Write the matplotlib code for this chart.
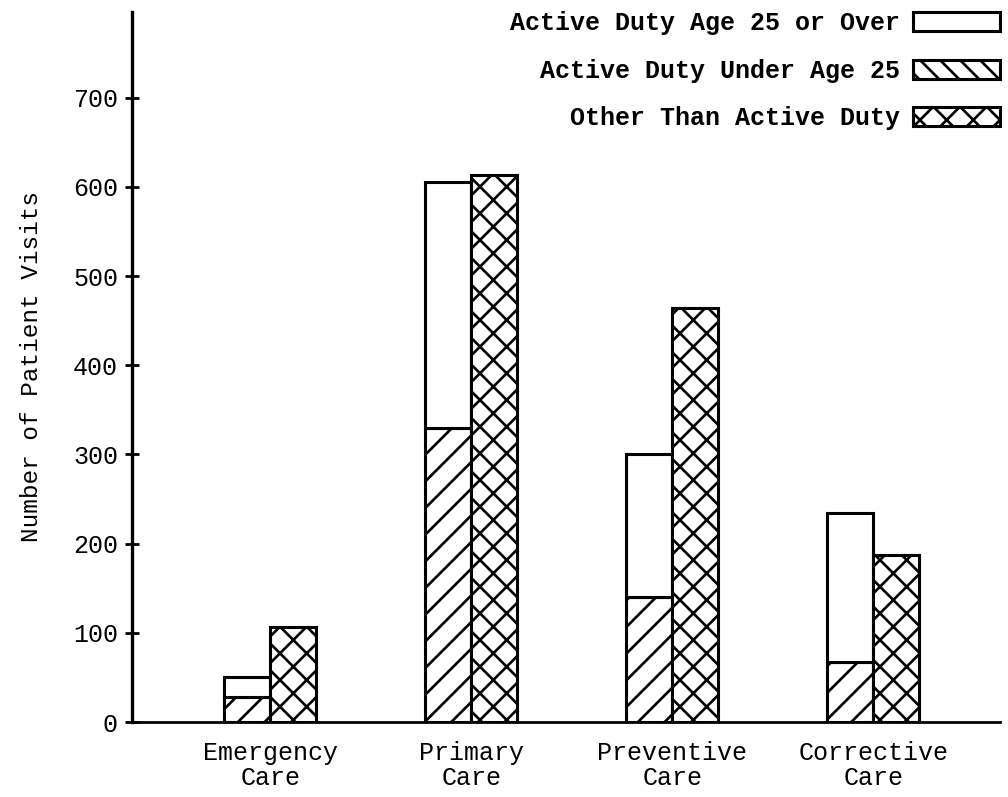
import numpy as np
import matplotlib
matplotlib.use('Agg')
import matplotlib.pyplot as plt
from matplotlib.patches import Patch

plt.rcParams['font.family'] = ['Liberation Mono', 'DejaVu Sans Mono']
plt.rcParams['hatch.linewidth'] = 0.8

categories = ['Emergency\nCare', 'Primary\nCare', 'Preventive\nCare', 'Corrective\nCare']
active_total = [50, 605, 300, 234]
active_under25 = [28, 330, 140, 67]
other = [106, 613, 464, 187]
yticks = [0, 100, 200, 300, 400, 500, 600, 700]

active_over25 = [t - u for t, u in zip(active_total, active_under25)]
x = np.arange(len(categories))
w = 0.229

# dpi 240 so the hatch spacing comes out like the hand drawn one
fig = plt.figure(figsize=(1008 / 240, 797 / 240), dpi=240)
ax = fig.add_axes([132 / 1008, 1 - 722 / 797, (1000 - 132) / 1008, 710 / 797])

ax.bar(x - w / 2, active_under25, w, color='white', edgecolor='black', hatch='///', linewidth=0.92)
ax.bar(x - w / 2, active_over25, w, bottom=active_under25, color='white', edgecolor='black', linewidth=0.92)
ax.bar(x + w / 2, other, w, color='white', edgecolor='black', hatch='xxx', linewidth=0.92)

ax.set_xlim(-0.687, 3.63)
ax.set_ylim(0, 796)
ax.set_yticks(yticks)
ax.set_xticks(x)
ax.set_xticklabels(categories, fontsize=7.5, linespacing=1.05)
ax.tick_params(axis='x', length=0, pad=5.8)
ax.tick_params(axis='y', direction='inout', length=4.2, width=0.83, labelsize=7.5, pad=2.1)
ax.spines['top'].set_visible(False)
ax.spines['right'].set_visible(False)
ax.spines['left'].set_linewidth(1.0)
ax.spines['bottom'].set_linewidth(0.83)
ax.set_ylabel('Number of Patient Visits', fontsize=7.3, labelpad=9)

handles = [
    Patch(facecolor='white', edgecolor='black', linewidth=0.92),
    Patch(facecolor='white', edgecolor='black', hatch='\\\\\\\\', linewidth=0.92),
    Patch(facecolor='white', edgecolor='black', hatch='xxx', linewidth=0.92),
]
labels = ['Active Duty Age 25 or Over', 'Active Duty Under Age 25', 'Other Than Active Duty']
fig.legend(handles, labels, loc='upper right', bbox_to_anchor=(1000 / 1008, 1 - 11 / 797),
           frameon=False, markerfirst=False, handlelength=3.5, handleheight=0.8,
           handletextpad=0.5, labelspacing=0.95, borderpad=0, borderaxespad=0,
           prop={'size': 7.5, 'weight': 'bold'})

fig.savefig('out.png', dpi=240)
